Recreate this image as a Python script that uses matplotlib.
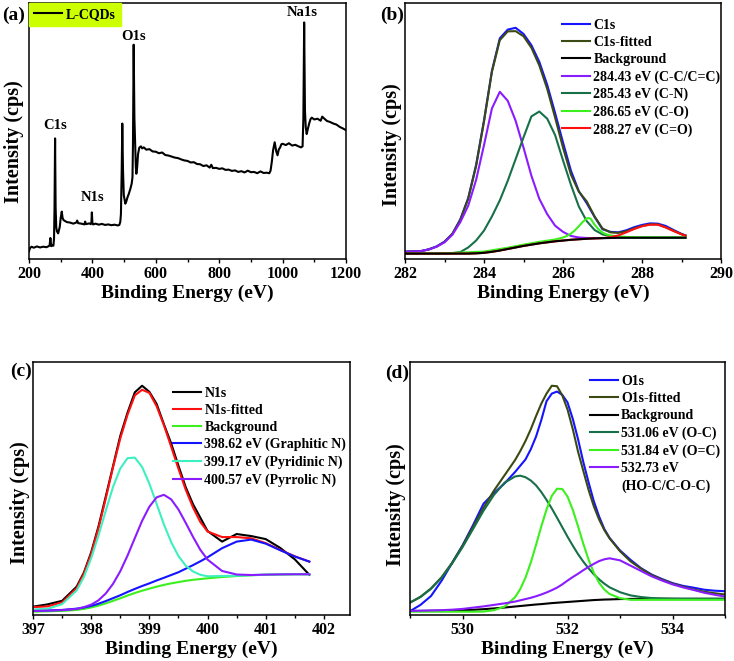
import matplotlib
matplotlib.use('Agg')
import matplotlib.pyplot as plt
from matplotlib.lines import Line2D
from matplotlib.ticker import MultipleLocator

plt.rcParams['font.family'] = ['Liberation Serif', 'DejaVu Serif']
plt.rcParams['font.weight'] = 'bold'
plt.rcParams['axes.labelweight'] = 'bold'

# ---------------- (a) survey spectrum ----------------
a_x = [200, 203, 208, 215, 225, 235, 245, 255, 262, 265, 267.5, 270, 274, 277, 279, 280.5, 282.3, 284, 286, 288,
       292, 297, 300, 303.4, 306, 309, 314, 320, 330, 340, 350, 352, 355, 365, 375, 377, 380, 390, 395, 397,
       398.3, 400, 402, 410, 420, 430, 440, 450, 460, 470, 480, 485, 488, 490, 492.5, 494.3, 496.5, 499, 503.8, 507,
       511, 515, 520, 524, 526.5, 528, 530.2, 532.5, 534.4, 537, 538.6, 541, 544, 548, 553, 557, 562, 570, 580, 590,
       600, 610, 620, 630, 640, 650, 660, 670, 680, 690, 700, 710, 720, 730, 740, 750, 760, 770, 775, 780,
       790, 800, 810, 820, 830, 840, 850, 860, 870, 880, 890, 900, 910, 920, 930, 940, 950, 958, 962, 966,
       970, 975, 980, 984, 988, 992, 996, 1000, 1010, 1020, 1030, 1040, 1050, 1058, 1063, 1065.5, 1068, 1070.5, 1073, 1076,
       1080, 1084, 1088, 1092, 1100, 1110, 1120, 1125, 1130, 1140, 1150, 1160, 1170, 1180, 1190, 1200]
a_y = [3.0, 4.2, 4.8, 4.4, 4.9, 4.5, 4.8, 4.6, 5.0, 5.3, 8.2, 5.0, 5.4, 5.2, 8.0, 20.0, 47.1, 20.0, 12.5, 10.8,
       10.0, 12.5, 16.0, 18.5, 16.0, 15.2, 14.8, 14.4, 14.2, 13.8, 14.3, 15.0, 14.0, 13.8, 13.5, 14.6, 13.6, 13.9, 13.6, 14.5,
       18.2, 14.2, 13.5, 13.8, 13.4, 13.7, 13.3, 13.5, 13.2, 13.4, 13.1, 13.3, 14.5, 17.5, 35.0, 52.9, 35.0, 25.0, 21.6, 22.5,
       24.2, 25.5, 27.5, 29.5, 32.0, 45.0, 83.7, 55.0, 46.4, 36.0, 33.3, 35.5, 41.0, 43.5, 44.0, 43.2, 43.6, 42.7, 42.9, 42.0,
       41.9, 41.3, 41.6, 40.6, 40.4, 40.0, 39.6, 39.4, 38.9, 38.5, 38.3, 37.7, 37.8, 37.1, 37.0, 36.3, 36.6, 35.7, 36.8, 35.5,
       35.6, 35.2, 35.4, 34.8, 34.9, 34.4, 34.6, 34.0, 34.3, 33.8, 34.5, 33.9, 34.0, 33.5, 34.2, 33.6, 33.7, 33.5, 34.5, 38.0,
       42.5, 45.6, 42.0, 40.5, 42.8, 43.5, 44.8, 45.0, 44.5, 45.2, 44.3, 44.6, 44.0, 43.6, 44.0, 55.0, 92.4, 58.0, 51.5, 48.8,
       51.0, 53.0, 54.6, 55.2, 54.5, 54.8, 54.0, 55.6, 55.0, 53.9, 53.5, 52.9, 52.5, 51.6, 51.0, 50.3]
a_peaks = ['C1s', 'N1s', 'O1s', 'Na1s']
a_peak_x = [282, 401, 530, 1063]
a_peak_y = [49.5, 21.5, 84.5, 93.8]

# ---------------- (b) C1s ----------------
b_x = [282.0, 282.2, 282.4, 282.6, 282.8, 283.0, 283.2, 283.4, 283.6, 283.8, 284.0, 284.2, 284.4, 284.6, 284.8, 285.0,
       285.2, 285.4, 285.6, 285.8, 286.0, 286.2, 286.4, 286.6, 286.8, 287.0, 287.2, 287.4, 287.6, 287.8, 288.0, 288.2,
       288.4, 288.6, 288.8, 289.0, 289.1]
b_data = [2.9, 3.0, 3.0, 3.8, 4.9, 6.8, 9.8, 15.5, 23.8, 36.8, 54.2, 73.5, 86.2, 89.6, 90.3, 87.9,
          83.5, 77.0, 68.0, 57.0, 45.5, 34.5, 26.5, 21.8, 16.4, 11.6, 10.6, 10.4, 11.2, 12.4, 13.3, 13.9,
          13.8, 12.9, 11.3, 9.8, 9.2]
b_fit = [2.8, 2.9, 3.1, 3.7, 4.85, 6.65, 9.9, 15.25, 23.55, 36.3, 53.7, 73.1, 85.5, 88.9, 89.0, 87.0,
         82.5, 75.6, 66.45, 55.2, 43.5, 33.0, 26.3, 22.5, 16.6, 11.9, 10.4, 10.2, 10.8, 11.9, 12.9, 13.5,
         13.5, 12.4, 11.0, 9.7, 9.2]
b_bg = [2.1, 2.1, 2.1, 2.1, 2.1, 2.1, 2.1, 2.1, 2.1, 2.2, 2.4, 2.8, 3.3, 3.9, 4.5, 5.1,
        5.6, 6.1, 6.5, 6.9, 7.2, 7.5, 7.7, 7.9, 8.05, 8.15, 8.2, 8.3, 8.3, 8.3, 8.3, 8.3,
        8.3, 8.3, 8.3, 8.3, 8.3]
b_cc = [2.8, 2.9, 3.1, 3.7, 4.8, 6.5, 9.5, 14.4, 20.8, 30.9, 44.5, 58.8, 65.3, 61.8, 54.0, 43.5,
        32.5, 23.5, 17.5, 13.0, 10.6, 9.0, 8.4, 8.2, 8.15, 8.15, 8.2, 8.3, 8.3, 8.3, 8.3, 8.3,
        8.3, 8.3, 8.3, 8.3, 8.3]
b_cn = [2.1, 2.1, 2.1, 2.1, 2.1, 2.15, 2.3, 2.7, 4.5, 7.2, 11.1, 16.6, 22.9, 30.5, 39.0, 47.5,
        55.7, 57.6, 54.8, 48.4, 38.5, 29.0, 20.5, 14.8, 11.3, 9.6, 8.9, 8.5, 8.35, 8.3, 8.3, 8.3,
        8.3, 8.3, 8.3, 8.3, 8.3]
b_co_x = [282.0, 283.0, 284.0, 284.6, 285.0, 285.4, 285.8, 286.0, 286.1, 286.2, 286.3, 286.4, 286.5, 286.6, 286.65,
          286.7, 286.8, 286.9, 287.0, 287.1, 287.2, 287.4, 287.6, 287.8, 288.0, 288.5, 289.1]
b_co = [2.1, 2.2, 2.9, 4.4, 5.6, 6.7, 7.6, 8.4, 9.0, 9.9, 11.2, 12.8, 14.5, 15.8, 16.0,
        15.7, 13.4, 11.6, 10.3, 9.6, 9.2, 8.8, 8.6, 8.5, 8.5, 8.45, 8.45]
b_cdo = [2.1, 2.1, 2.1, 2.1, 2.1, 2.1, 2.1, 2.1, 2.1, 2.2, 2.4, 2.8, 3.3, 3.9, 4.5, 5.1,
         5.6, 6.1, 6.5, 6.9, 7.2, 7.5, 7.7, 7.9, 8.05, 8.15, 8.5, 9.2, 10.4, 11.7, 12.8, 13.4,
         13.4, 12.3, 10.9, 9.6, 9.1]
b_labels = ['C1s', 'C1s-fitted', 'Background', '284.43 eV (C-C/C=C)', '285.43 eV (C-N)',
            '286.65 eV (C-O)', '288.27 eV (C=O)']

# ---------------- (c) N1s ----------------
c_x = [397.0, 397.25, 397.5, 397.75, 397.875, 398.0, 398.125, 398.25, 398.375, 398.5, 398.625, 398.75, 398.875,
       399.0, 399.125, 399.25, 399.375, 399.5, 399.625, 399.75, 399.875, 400.0, 400.25, 400.5, 400.75, 401.0,
       401.25, 401.5, 401.75]
c_data = [3.3, 4.2, 5.6, 11.2, 16.8, 24.8, 35.0, 46.8, 58.8, 70.8, 80.0, 88.0, 90.6,
          88.2, 83.4, 75.4, 67.8, 59.0, 50.5, 43.8, 38.5, 33.2, 29.0, 32.0, 31.2, 30.0,
          26.5, 22.0, 15.9]
c_fit = [3.1, 3.4, 5.0, 10.6, 16.35, 24.2, 34.25, 46.0, 58.35, 69.8, 79.2, 86.8, 89.0,
         87.8, 82.5, 75.0, 66.5, 57.8, 49.5, 42.5, 36.8, 33.0, 30.8, 30.8, 30.3, 28.4,
         25.7, 23.2, 21.1]
c_bg = [1.3, 1.45, 1.6, 2.0, 2.4, 3.0, 3.7, 4.6, 5.6, 6.6, 7.7, 8.7, 9.6,
        10.4, 11.2, 11.9, 12.5, 13.0, 13.5, 13.9, 14.2, 14.5, 15.0, 15.4, 15.7, 15.9,
        16.0, 16.1, 16.1]
c_graph = [1.6, 1.8, 2.0, 2.5, 2.95, 3.6, 4.45, 5.5, 6.65, 7.8, 9.1, 10.3, 11.45,
           12.5, 13.65, 14.7, 15.8, 16.9, 18.3, 19.7, 21.2, 22.8, 26.4, 29.0, 29.8, 28.2,
           25.6, 23.1, 21.1]
c_pyrid = [2.2, 2.45, 4.3, 9.7, 15.1, 22.5, 31.4, 41.2, 50.6, 57.9, 62.0, 62.2, 58.5,
           51.9, 43.9, 35.8, 28.8, 23.3, 19.5, 17.2, 15.9, 15.3, 15.4, 15.5, 15.75, 15.95,
           16.05, 16.1, 16.1]
c_pyrr = [1.6, 1.75, 1.9, 2.4, 3.1, 4.1, 5.8, 8.5, 12.3, 17.3, 23.5, 30.4, 37.2,
          42.8, 46.5, 47.5, 45.7, 41.7, 36.4, 30.9, 25.8, 21.9, 17.4, 16.0, 15.8, 15.95,
          16.05, 16.1, 16.1]
c_labels = ['N1s', 'N1s-fitted', 'Background', '398.62 eV (Graphitic N)', '399.17 eV (Pyridinic N)',
            '400.57 eV (Pyrrolic N)']

# ---------------- (d) O1s ----------------
d_x = [529.0, 529.2, 529.4, 529.6, 529.8, 530.0, 530.2, 530.4, 530.6, 530.8, 531.0,
       531.1, 531.2, 531.3, 531.4, 531.5, 531.6, 531.7, 531.8, 531.9, 532.0, 532.1, 532.2, 532.3, 532.4, 532.5,
       532.6, 532.7, 532.8, 533.0, 533.2, 533.4, 533.6, 533.8, 534.0, 534.2, 534.4, 534.6, 534.8, 535.0]
d_data = [1.5, 4.0, 7.5, 13.5, 20.5, 27.5, 35.5, 44.0, 48.2, 52.0, 56.5,
          59.0, 61.5, 65.5, 70.5, 77.0, 84.5, 87.5, 88.3, 87.0, 84.0, 77.5, 69.5, 60.5, 52.5, 45.0,
          39.0, 34.0, 30.5, 25.5, 21.8, 18.5, 16.0, 14.2, 12.6, 11.5, 10.8, 10.0, 9.6, 9.4]
d_fit = [4.9, 7.2, 10.5, 14.9, 20.6, 27.3, 34.8, 42.35, 49.2, 55.2, 61.2,
         64.8, 68.8, 73.4, 78.6, 83.5, 87.5, 90.6, 90.4, 86.8, 81.2, 73.5, 64.6, 57.0, 49.5, 43.0,
         37.8, 33.6, 30.3, 25.2, 21.2, 18.3, 15.8, 14.0, 12.4, 11.2, 10.1, 9.2, 8.6, 8.1]
d_bg = [1.6, 1.6, 1.65, 1.7, 1.8, 1.9, 2.05, 2.3, 2.6, 2.95, 3.35,
        3.55, 3.75, 3.95, 4.15, 4.3, 4.5, 4.7, 4.85, 5.0, 5.15, 5.3, 5.45, 5.6, 5.75, 5.9,
        6.0, 6.1, 6.15, 6.3, 6.35, 6.4, 6.4, 6.4, 6.4, 6.4, 6.4, 6.4, 6.4, 6.4]
d_oc = [4.9, 7.1, 10.35, 14.7, 20.3, 26.8, 33.95, 41.2, 47.5, 52.25, 54.75,
        55.05, 54.45, 53.15, 51.25, 48.6, 45.5, 42.1, 38.45, 34.7, 30.95, 27.4, 24.05, 21.1, 18.45, 16.1,
        14.1, 12.4, 10.95, 9.0, 7.75, 7.1, 6.7, 6.55, 6.45, 6.4, 6.4, 6.4, 6.4, 6.4]
d_odc = [1.3, 1.3, 1.3, 1.3, 1.3, 1.3, 1.3, 1.35, 1.9, 3.3, 7.0,
         10.25, 14.8, 20.7, 27.7, 34.95, 41.7, 47.05, 49.9, 49.8, 46.8, 41.6, 35.05, 28.2, 21.9, 16.75,
         12.75, 10.05, 8.3, 6.65, 6.0, 6.0, 6.0, 6.0, 6.0, 6.0, 6.0, 6.0, 6.0, 6.0]
d_hoc = [1.6, 1.7, 1.8, 1.9, 2.1, 2.4, 2.9, 3.4, 4.0, 4.6, 5.3,
         5.8, 6.3, 6.8, 7.4, 8.1, 8.9, 9.8, 10.8, 12.1, 13.6, 15.0, 16.3, 17.7, 19.0, 20.2,
         21.3, 22.0, 22.4, 21.6, 19.5, 17.4, 15.3, 13.6, 12.1, 10.9, 9.9, 8.8, 8.0, 7.3]
d_labels = ['O1s', 'O1s-fitted', 'Background', '531.06 eV (O-C)', '531.84 eV (O=C)', '532.73 eV',
            '(HO-C/C-O-C)']

BLUE = '#1414ff'
OLIVE = '#3b4a12'
PURPLE = '#8a1cff'
DGREEN = '#17704a'
LGREEN = '#3cf01e'
RED = '#ff1010'
AQUA = '#3cf0c0'
LW = 1.5


def style(ax, xlim, major, minor, label, lab_xy, ylab_xy, xlab_y):
    ax.set_xlim(*xlim)
    ax.set_ylim(0, 100)
    ax.xaxis.set_major_locator(MultipleLocator(major))
    ax.xaxis.set_minor_locator(MultipleLocator(minor))
    ax.tick_params(axis='x', which='both', direction='out', width=1.0, labelsize=11.5, pad=2)
    ax.tick_params(axis='x', which='major', length=3)
    ax.tick_params(axis='x', which='minor', length=2.5)
    ax.set_yticks([])
    for s in ax.spines.values():
        s.set_linewidth(1.1)
    ax.set_xlabel('Binding Energy (eV)', fontsize=14)
    ax.set_ylabel('Intensity (cps)', fontsize=14.5)
    ax.yaxis.set_label_coords(*ylab_xy)
    ax.xaxis.set_label_coords(0.5, xlab_y)
    ax.text(lab_xy[0], lab_xy[1], label, transform=ax.transAxes, ha='right', va='center', fontsize=14)


def legend(ax, handles, labels, anchor):
    ax.legend(handles, labels, loc='upper left', bbox_to_anchor=anchor, frameon=False, fontsize=10,
              handlelength=2.0, handletextpad=0.25, labelspacing=0.3, borderpad=0, borderaxespad=0)


fig = plt.figure(figsize=(7.34, 6.61), dpi=100)
ax_a = fig.add_axes([0.0395, 0.6082, 0.4319, 0.3873])
ax_b = fig.add_axes([0.5518, 0.6082, 0.4305, 0.3873])
ax_c = fig.add_axes([0.0450, 0.0696, 0.4319, 0.3828])
ax_d = fig.add_axes([0.5586, 0.0696, 0.4292, 0.3828])

# (a)
la, = ax_a.plot(a_x, a_y, color='black', lw=LW)
for name, px, py in zip(a_peaks, a_peak_x, a_peak_y):
    ax_a.text(px, py, name, ha='center', va='bottom', fontsize=10.5)
leg = ax_a.legend([la], ['L-CQDs'], loc='upper left', bbox_to_anchor=(0, 1), borderaxespad=0, fontsize=10,
                  handlelength=2.0, handletextpad=0.3, borderpad=0.35, fancybox=False)
leg.get_frame().set_facecolor('#ccff00')
leg.get_frame().set_edgecolor('#ccff00')
leg.get_frame().set_alpha(1)
style(ax_a, (200, 1200), 200, 100, '(a)', (-0.013, 0.953), (-0.016, 0.457), -0.1)

# (b)
h = []
h += ax_b.plot(b_x, b_data, color=BLUE, lw=LW)
h += ax_b.plot(b_x, b_fit, color=OLIVE, lw=LW)
h += ax_b.plot(b_x, b_bg, color='black', lw=LW, zorder=5)
h += ax_b.plot(b_x, b_cc, color=PURPLE, lw=LW)
h += ax_b.plot(b_x, b_cn, color=DGREEN, lw=LW)
h += ax_b.plot(b_co_x, b_co, color=LGREEN, lw=LW)
h += ax_b.plot(b_x, b_cdo, color=RED, lw=LW)
legend(ax_b, h, b_labels, (0.497, 0.939))
style(ax_b, (282, 290), 2, 1, '(b)', (-0.003, 0.953), (-0.01, 0.445), -0.1)

# (c)
h = []
h += ax_c.plot(c_x, c_data, color='black', lw=LW)
h += ax_c.plot(c_x, c_fit, color=RED, lw=LW)
h += ax_c.plot(c_x, c_bg, color=LGREEN, lw=LW)
h += ax_c.plot(c_x, c_graph, color=BLUE, lw=LW)
h += ax_c.plot(c_x, c_pyrid, color=AQUA, lw=LW)
h += ax_c.plot(c_x, c_pyrr, color=PURPLE, lw=LW)
legend(ax_c, h, c_labels, (0.442, 0.903))
style(ax_c, (397, 402.45), 1, 0.5, '(c)', (-0.003, 0.962), (-0.01, 0.443), -0.1)

# (d)
h = []
h += ax_d.plot(d_x, d_data, color=BLUE, lw=LW)
h += ax_d.plot(d_x, d_fit, color=OLIVE, lw=LW)
h += ax_d.plot(d_x, d_bg, color='black', lw=LW)
h += ax_d.plot(d_x, d_oc, color=DGREEN, lw=LW)
h += ax_d.plot(d_x, d_odc, color=LGREEN, lw=LW)
h += ax_d.plot(d_x, d_hoc, color=PURPLE, lw=LW)
h.append(Line2D([], [], color='none'))
legend(ax_d, h, d_labels, (0.571, 0.948))
style(ax_d, (529, 535), 2, 1, '(d)', (-0.003, 0.955), (-0.014, 0.435), -0.1)

fig.savefig('out.png', dpi=100)
